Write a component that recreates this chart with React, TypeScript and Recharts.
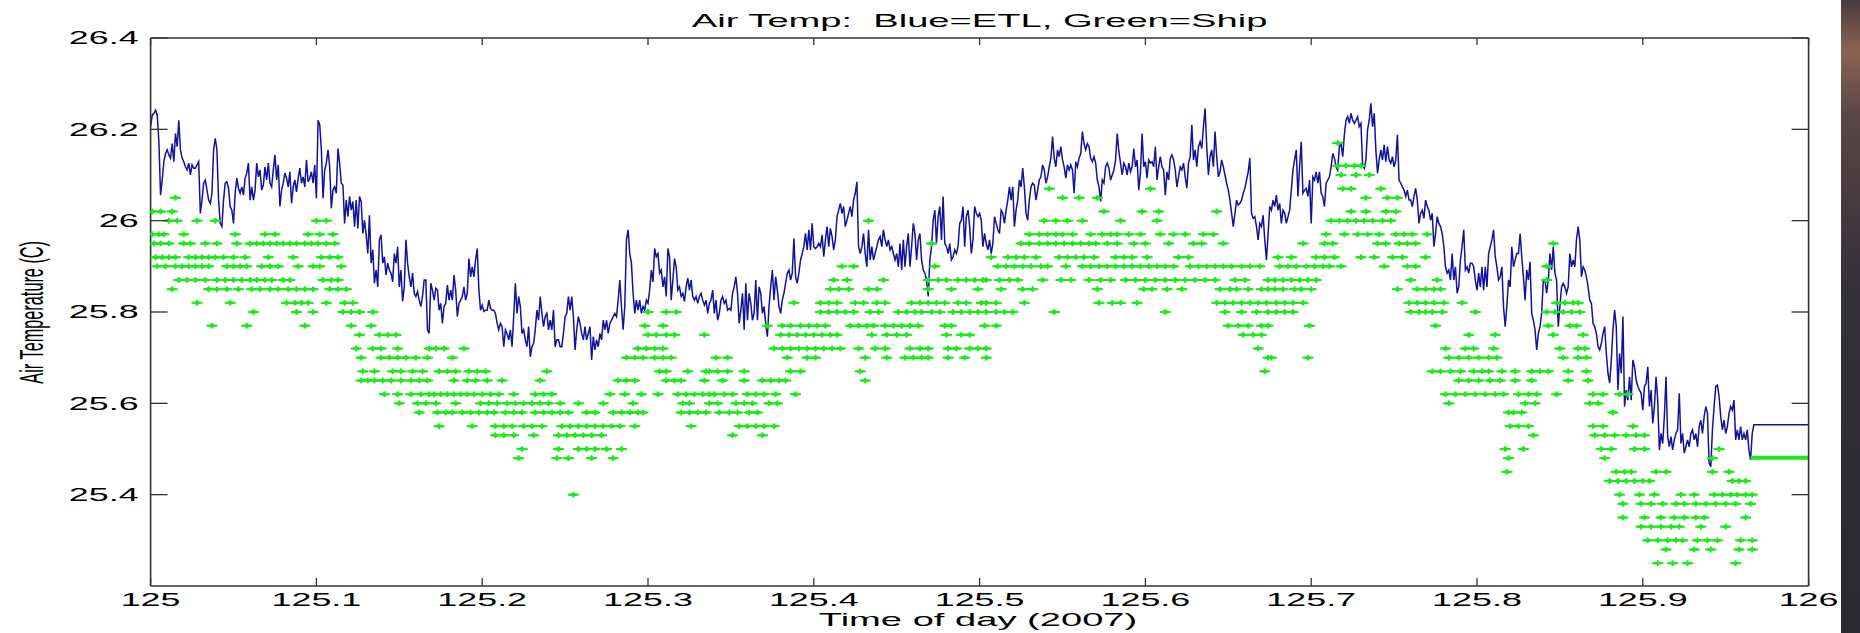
import React from 'react'
import { ComposedChart, Line, Scatter, XAxis, YAxis } from 'recharts'

// ETL air temperature, one reading every 0.001 day starting at day 125.000
const etlStart = 125.0
const etlStep = 0.001
const etlA = [
  26.206, 26.231, 26.235, 26.242, 26.231, 26.173, 26.056, 26.089, 26.129, 26.147,
  26.155, 26.144, 26.137, 26.169, 26.129, 26.191, 26.162, 26.22, 26.155, 26.137,
  26.129, 26.118, 26.111, 26.126, 26.1, 26.122, 26.115, 26.115, 26.122, 26.129,
  26.016, 26.045, 26.082, 26.089, 26.067, 26.045, 26.038, 26.06, 26.155, 26.18,
  26.155, 26.045, 25.994, 25.987, 26.045, 26.082, 26.085, 26.071, 26.031, 26.023,
  25.994, 26.06, 26.093, 26.071, 26.06, 26.074, 26.056, 26.093, 26.104, 26.126,
  26.045, 26.074, 26.045, 26.067, 26.126, 26.096, 26.111, 26.067, 26.078, 26.118,
  26.089, 26.126, 26.082, 26.074, 26.111, 26.144, 26.089, 26.122, 26.031, 26.067,
  26.082, 26.104, 26.093, 26.074, 26.107, 26.038, 26.074, 26.089, 26.063, 26.093,
  26.115, 26.082, 26.096, 26.074, 26.133, 26.085, 26.093, 26.107, 26.082, 26.122,
  26.049, 26.22, 26.21, 26.155, 26.049, 26.111, 26.126, 26.155, 26.118, 26.027,
  26.067, 26.074, 26.06, 26.158, 26.126, 26.082, 26.078, 25.994, 26.045, 26.009,
  26.053, 26.023, 26.042, 25.987, 26.045, 25.983, 26.053, 26.042, 25.972, 26.001,
  25.969, 25.928, 26.012, 25.907, 25.936, 25.863, 25.892, 25.855, 25.958, 25.969,
  25.907, 25.921, 25.881, 25.907, 25.892, 25.885, 25.866, 25.928, 25.907, 25.943,
  25.855, 25.892, 25.823, 25.855, 25.958, 25.907, 25.877, 25.855, 25.885, 25.841,
  25.834, 25.845, 25.826, 25.812, 25.834, 25.87,
]
const etlB = [
  25.87, 25.761, 25.753, 25.863, 25.848, 25.826, 25.852, 25.848, 25.804, 25.819,
  25.775, 25.812, 25.819, 25.859, 25.826, 25.848, 25.826, 25.881, 25.848, 25.79,
  25.819, 25.826, 25.834, 25.855, 25.826, 25.841, 25.917, 25.877, 25.899, 25.877,
  25.914, 25.939, 25.848, 25.804, 25.815, 25.801, 25.804, 25.804, 25.826, 25.808,
  25.804, 25.804, 25.797, 25.775, 25.761, 25.775, 25.768, 25.724, 25.761, 25.753,
  25.739, 25.761, 25.724, 25.79, 25.863, 25.797, 25.834, 25.812, 25.753, 25.761,
  25.739, 25.724, 25.768, 25.702, 25.724, 25.731, 25.761, 25.804, 25.782, 25.834,
  25.797, 25.768, 25.79, 25.797, 25.761, 25.782, 25.761, 25.804, 25.724, 25.739,
  25.739, 25.724, 25.724, 25.753, 25.79, 25.797, 25.834, 25.804, 25.834, 25.79,
  25.717, 25.761, 25.79, 25.775, 25.753, 25.739, 25.768, 25.739, 25.753, 25.768,
  25.695, 25.746, 25.717, 25.739, 25.724, 25.753, 25.739, 25.782, 25.761, 25.782,
  25.753, 25.775, 25.782, 25.79, 25.797, 25.79, 25.826, 25.87, 25.812, 25.761,
  25.812, 25.958, 25.98, 25.928, 25.907, 25.841, 25.797, 25.826, 25.804, 25.826,
  25.797, 25.812, 25.804, 25.826, 25.819, 25.848, 25.892, 25.866, 25.939, 25.921,
  25.928, 25.885, 25.892, 25.855, 25.877, 25.834, 25.939, 25.921, 25.826, 25.87,
  25.917, 25.899, 25.848, 25.855, 25.834, 25.841, 25.823, 25.855, 25.874, 25.848,
  25.87, 25.834, 25.826, 25.834, 25.819, 25.834, 25.841, 25.826, 25.815, 25.826,
  25.797,
]
const etlC = [
  25.819, 25.826, 25.848, 25.797, 25.826, 25.782, 25.797, 25.826, 25.834, 25.819,
  25.826, 25.804, 25.808, 25.804, 25.841, 25.855, 25.877, 25.841, 25.775, 25.804,
  25.841, 25.761, 25.863, 25.782, 25.841, 25.819, 25.782, 25.797, 25.87, 25.782,
  25.855, 25.841, 25.797, 25.812, 25.775, 25.746, 25.812, 25.855, 25.892, 25.826,
  25.877, 25.848, 25.812, 25.797, 25.826, 25.841, 25.863, 25.885, 25.892, 25.87,
  25.885, 25.961, 25.877, 25.863, 25.885, 25.914, 25.928, 25.943, 25.972, 25.936,
  25.98, 25.936, 25.994, 25.943, 25.939, 25.943, 25.95, 25.943, 25.969, 25.921,
  25.958, 25.987, 25.943, 25.983, 25.965, 25.936, 25.958, 26.009, 26.023, 26.038,
  26.016, 26.031, 25.987, 26.001, 26.016, 26.031, 26.009, 26.045, 26.06, 26.085,
  25.943, 25.928, 25.943, 25.972, 25.928, 25.899, 25.98, 25.914, 25.943, 25.914,
  25.928, 25.943, 25.958, 25.965, 25.943, 25.98, 25.958, 25.943, 25.958, 25.936,
  25.943, 25.928, 25.914, 25.928, 25.899, 25.95, 25.892, 25.958, 25.899, 25.943,
  25.972, 25.899, 25.943, 25.994, 25.972, 25.914, 25.958, 25.972, 25.914, 25.892,
  25.885, 25.87, 25.834, 25.914, 25.943, 26.001, 26.023, 25.95, 26.009, 26.031,
  25.958, 26.053, 25.95, 25.943, 25.928, 25.95, 25.914, 25.921, 25.936, 25.928,
  25.943, 25.994, 26.001, 26.031, 25.943, 26.009, 26.023, 25.987, 25.928, 25.958,
  26.031, 26.016, 26.009, 26.016, 26.001, 25.943, 25.972, 25.95, 25.936,
]
const etlD = [
  25.958, 25.928, 25.95, 26.009, 25.994, 25.98, 25.972, 26.023, 26.016, 25.994,
  26.023, 26.045, 26.074, 26.045, 26.074, 25.987, 26.023, 26.045, 26.089, 26.074,
  26.115, 26.074, 26.016, 26.001, 26.045, 26.074, 26.082, 26.078, 26.045, 26.067,
  26.089, 26.096, 26.122, 26.111, 26.082, 26.096, 26.118, 26.137, 26.184, 26.137,
  26.118, 26.155, 26.14, 26.162, 26.133, 26.118, 26.093, 26.122, 26.111, 26.122,
  26.111, 26.06, 26.129, 26.118, 26.137, 26.147, 26.195, 26.169, 26.155, 26.169,
  26.162, 26.137, 26.129, 26.14, 26.126, 26.089, 26.074, 26.042, 26.089, 26.082,
  26.118, 26.126, 26.115, 26.089, 26.1, 26.111, 26.133, 26.191, 26.151, 26.126,
  26.1, 26.126, 26.118, 26.1, 26.126, 26.107, 26.118, 26.158, 26.118, 26.133,
  26.067, 26.104, 26.191, 26.118, 26.129, 26.093, 26.133, 26.126, 26.129, 26.118,
  26.162, 26.089, 26.118, 26.14, 26.118, 26.111, 26.056, 26.107, 26.089, 26.137,
  26.144, 26.133, 26.111, 26.074, 26.096, 26.118, 26.111, 26.126, 26.096, 26.071,
  26.126, 26.14, 26.21, 26.133, 26.155, 26.118, 26.162, 26.173, 26.158, 26.206,
  26.246, 26.162, 26.1, 26.14, 26.155, 26.118, 26.195, 26.14, 26.096, 26.107,
  26.133, 26.118, 26.1, 26.082, 26.067, 26.045, 26.016, 25.987, 26.016, 26.045,
  26.034, 26.038, 26.045, 26.06, 26.071, 26.089, 26.107, 26.137, 26.016, 26.005,
  26.009, 25.987, 25.958, 25.994, 25.987, 26.012, 25.958, 25.914, 25.972,
]
const etlE = [
  26.031, 26.023, 26.045, 26.031, 26.056, 26.023, 26.038, 25.994, 26.023, 26.016,
  25.994, 26.009, 26.023, 26.067, 26.111, 26.133, 26.155, 26.053, 26.118, 26.173,
  26.06, 26.067, 26.071, 26.053, 26.089, 25.994, 26.096, 26.089, 26.107, 26.082,
  26.107, 26.06, 26.053, 26.031, 26.082, 26.089, 26.096, 26.118, 26.147, 26.137,
  26.118, 26.111, 26.162, 26.169, 26.14, 26.188, 26.22, 26.228, 26.213, 26.235,
  26.22, 26.213, 26.22, 26.228, 26.206, 26.213, 26.122, 26.115, 26.133, 26.199,
  26.22, 26.257, 26.206, 26.235, 26.155, 26.104, 26.133, 26.155, 26.133, 26.166,
  26.129, 26.162, 26.133, 26.126, 26.14, 26.118, 26.133, 26.188, 26.089, 26.082,
  26.074, 26.067, 26.053, 26.067, 26.045, 26.045, 26.031, 26.053, 26.071, 26.045,
  25.994, 26.016, 26.023, 26.005, 26.045, 26.031, 26.023, 26.001, 26.016, 25.943,
  25.972, 26.009, 25.994, 25.987, 25.972, 25.943, 25.899, 25.885, 25.892, 25.87,
  25.928, 25.87, 25.899, 25.841, 25.855, 25.914, 25.943, 25.98, 25.892, 25.899,
  25.885, 25.907, 25.907, 25.899, 25.87, 25.848, 25.885, 25.855, 25.899, 25.848,
  25.899, 25.855, 25.928, 25.943, 25.958, 25.98, 25.921, 25.899, 25.87, 25.877,
  25.899, 25.812, 25.768, 25.812, 25.87, 25.855, 25.943, 25.899, 25.914, 25.928,
  25.928, 25.972, 25.921, 25.877, 25.826, 25.892, 25.87, 25.91, 25.797, 25.782,
  25.761, 25.717, 25.753, 25.768, 25.797, 25.87, 25.87, 25.841, 25.87,
]
const etlF = [
  25.928, 25.892, 25.943, 25.885, 25.87, 25.768, 25.812, 25.855, 25.863, 25.855,
  25.841, 25.855, 25.928, 25.899, 25.914, 25.899, 25.958, 25.987, 25.958, 25.877,
  25.899, 25.892, 25.877, 25.855, 25.826, 25.819, 25.775, 25.768, 25.753, 25.724,
  25.717, 25.731, 25.753, 25.768, 25.709, 25.666, 25.644, 25.695, 25.761, 25.804,
  25.768, 25.629, 25.709, 25.666, 25.79, 25.593, 25.629, 25.607, 25.658, 25.607,
  25.695, 25.68, 25.651, 25.637, 25.629, 25.622, 25.585, 25.637, 25.644, 25.68,
  25.593, 25.629, 25.556, 25.593, 25.658, 25.607, 25.498, 25.534, 25.512, 25.571,
  25.658, 25.527, 25.505, 25.527, 25.498, 25.52, 25.534, 25.542, 25.622, 25.512,
  25.534, 25.491, 25.505, 25.52, 25.505, 25.534, 25.542, 25.52, 25.534, 25.505,
  25.549, 25.563, 25.534, 25.571, 25.593, 25.578, 25.469, 25.461, 25.542, 25.593,
  25.637, 25.64, 25.615, 25.571, 25.542, 25.563, 25.534, 25.549, 25.578, 25.593,
  25.585, 25.607, 25.52, 25.542, 25.52, 25.549, 25.52, 25.534, 25.52, 25.542,
  25.498, 25.476, 25.534, 25.553,
]
// value the ETL record is held at after the last reading
const etlHold = 25.553

// ship sensor: quantised levels (C) and the times (day) a reading fell on each
const shipLevels = [
  26.17, 26.12, 26.1, 26.07, 26.05, 26.02, 26.0, 25.97, 25.95, 25.92, 25.9, 25.87, 25.85,
  25.82, 25.8, 25.77, 25.75, 25.72, 25.7, 25.67, 25.65, 25.62, 25.6, 25.58, 25.55, 25.53,
  25.5, 25.48, 25.45, 25.43, 25.4, 25.38, 25.35, 25.33, 25.3, 25.28, 25.25,
]
const shipTimes: number[][] = [
  [125.716],
  [125.716, 125.721, 125.726, 125.73],
  [125.718, 125.727, 125.735],
  [125.542, 125.603, 125.719, 125.724, 125.742],
  [125.015, 125.55, 125.56, 125.571, 125.733, 125.746, 125.752],
  [125.001, 125.006, 125.013, 125.575, 125.598, 125.608, 125.643, 125.724, 125.733, 125.745, 125.751],
  [125.011, 125.016, 125.028, 125.039, 125.1, 125.106, 125.433, 125.539, 125.546, 125.553, 125.562,
    125.585, 125.607, 125.712, 125.717, 125.722, 125.727, 125.732, 125.737, 125.743, 125.748],
  [125.001, 125.005, 125.008, 125.02, 125.051, 125.069, 125.075, 125.095, 125.102, 125.11, 125.53,
    125.536, 125.541, 125.546, 125.55, 125.556, 125.567, 125.574, 125.579, 125.583, 125.59, 125.597,
    125.609, 125.617, 125.624, 125.635, 125.641, 125.709, 125.72, 125.728, 125.734, 125.741, 125.751,
    125.756, 125.761, 125.77],
  [125.002, 125.006, 125.011, 125.02, 125.024, 125.033, 125.04, 125.052, 125.06, 125.064, 125.068,
    125.072, 125.076, 125.08, 125.084, 125.088, 125.093, 125.097, 125.101, 125.106, 125.111, 125.471,
    125.525, 125.53, 125.536, 125.541, 125.546, 125.551, 125.556, 125.561, 125.566, 125.57, 125.577,
    125.583, 125.593, 125.6, 125.614, 125.629, 125.634, 125.647, 125.695, 125.708, 125.713, 125.74,
    125.745, 125.753, 125.758, 125.763, 125.846],
  [125.003, 125.007, 125.011, 125.015, 125.023, 125.027, 125.031, 125.035, 125.039, 125.044, 125.05,
    125.057, 125.071, 125.086, 125.103, 125.108, 125.113, 125.507, 125.517, 125.522, 125.527, 125.534,
    125.548, 125.553, 125.558, 125.563, 125.569, 125.582, 125.587, 125.592, 125.601, 125.62, 125.626,
    125.68, 125.688, 125.703, 125.708, 125.714, 125.73, 125.738, 125.749, 125.755, 125.769],
  [125.004, 125.009, 125.015, 125.019, 125.023, 125.027, 125.031, 125.035, 125.046, 125.05, 125.054,
    125.058, 125.067, 125.072, 125.077, 125.089, 125.098, 125.102, 125.115, 125.417, 125.424, 125.473,
    125.511, 125.516, 125.521, 125.526, 125.531, 125.537, 125.541, 125.552, 125.562, 125.567, 125.572,
    125.577, 125.582, 125.587, 125.592, 125.597, 125.602, 125.607, 125.612, 125.617, 125.627, 125.632,
    125.637, 125.642, 125.647, 125.652, 125.658, 125.663, 125.669, 125.681, 125.686, 125.691, 125.697,
    125.702, 125.707, 125.711, 125.718, 125.744, 125.758, 125.763, 125.842],
  [125.017, 125.022, 125.027, 125.033, 125.04, 125.045, 125.05, 125.055, 125.06, 125.064, 125.069,
    125.073, 125.08, 125.084, 125.104, 125.109, 125.113, 125.412, 125.42, 125.442, 125.469, 125.475,
    125.48, 125.487, 125.492, 125.497, 125.502, 125.504, 125.512, 125.518, 125.523, 125.538, 125.549,
    125.555, 125.566, 125.573, 125.579, 125.588, 125.594, 125.6, 125.606, 125.612, 125.618, 125.624,
    125.63, 125.636, 125.642, 125.654, 125.66, 125.674, 125.678, 125.683, 125.688, 125.693, 125.698,
    125.703, 125.76, 125.776, 125.842],
  [125.013, 125.035, 125.04, 125.046, 125.053, 125.061, 125.066, 125.072, 125.077, 125.083, 125.088,
    125.093, 125.098, 125.108, 125.113, 125.118, 125.41, 125.415, 125.421, 125.433, 125.438, 125.469,
    125.483, 125.499, 125.513, 125.526, 125.532, 125.571, 125.599, 125.604, 125.613, 125.622, 125.645,
    125.651, 125.655, 125.662, 125.67, 125.674, 125.678, 125.683, 125.69, 125.694, 125.7, 125.752,
    125.764, 125.769, 125.774, 125.778],
  [125.028, 125.048, 125.082, 125.087, 125.091, 125.095, 125.106, 125.117, 125.122, 125.388, 125.404,
    125.409, 125.414, 125.425, 125.43, 125.438, 125.443, 125.459, 125.464, 125.469, 125.474, 125.479,
    125.487, 125.492, 125.501, 125.504, 125.51, 125.527, 125.572, 125.58, 125.585, 125.595, 125.643,
    125.648, 125.653, 125.658, 125.663, 125.668, 125.673, 125.679, 125.684, 125.689, 125.695, 125.759,
    125.764, 125.769, 125.774, 125.78, 125.791, 125.848, 125.853, 125.858, 125.861],
  [125.062, 125.088, 125.098, 125.116, 125.121, 125.126, 125.134, 125.3, 125.311, 125.317, 125.404,
    125.409, 125.414, 125.419, 125.424, 125.434, 125.439, 125.451, 125.456, 125.461, 125.465, 125.471,
    125.476, 125.484, 125.489, 125.494, 125.499, 125.504, 125.51, 125.515, 125.52, 125.545, 125.612,
    125.648, 125.658, 125.667, 125.674, 125.679, 125.684, 125.689, 125.76, 125.765, 125.769, 125.773,
    125.779, 125.799, 125.842, 125.847, 125.852, 125.857, 125.862],
  [125.037, 125.058, 125.093, 125.121, 125.133, 125.298, 125.309, 125.372, 125.381, 125.386, 125.392,
    125.397, 125.402, 125.407, 125.422, 125.427, 125.432, 125.436, 125.443, 125.448, 125.453, 125.458,
    125.463, 125.479, 125.483, 125.503, 125.51, 125.65, 125.656, 125.662, 125.67, 125.674, 125.699,
    125.775, 125.843, 125.856, 125.86],
  [125.126, 125.138, 125.143, 125.148, 125.3, 125.305, 125.311, 125.316, 125.334, 125.38, 125.385,
    125.39, 125.395, 125.4, 125.405, 125.41, 125.414, 125.435, 125.444, 125.45, 125.456, 125.48,
    125.489, 125.494, 125.659, 125.665, 125.67, 125.795, 125.811, 125.846, 125.864],
  [125.124, 125.134, 125.139, 125.149, 125.168, 125.172, 125.177, 125.189, 125.294, 125.299, 125.304,
    125.309, 125.376, 125.381, 125.386, 125.391, 125.396, 125.401, 125.406, 125.411, 125.416, 125.427,
    125.437, 125.443, 125.458, 125.464, 125.469, 125.481, 125.486, 125.494, 125.499, 125.504, 125.668,
    125.781, 125.793, 125.798, 125.81, 125.85, 125.861, 125.865],
  [125.127, 125.139, 125.144, 125.149, 125.154, 125.16, 125.167, 125.182, 125.287, 125.292, 125.297,
    125.304, 125.309, 125.314, 125.341, 125.348, 125.384, 125.396, 125.401, 125.431, 125.444, 125.455,
    125.46, 125.465, 125.469, 125.481, 125.491, 125.504, 125.674, 125.676, 125.698, 125.783, 125.789,
    125.795, 125.801, 125.807, 125.812, 125.852, 125.861, 125.866],
  [125.128, 125.135, 125.146, 125.151, 125.158, 125.164, 125.174, 125.179, 125.184, 125.192, 125.197,
    125.202, 125.239, 125.307, 125.311, 125.324, 125.335, 125.337, 125.342, 125.348, 125.358, 125.386,
    125.392, 125.428, 125.672, 125.773, 125.778, 125.784, 125.79, 125.798, 125.803, 125.807, 125.815,
    125.823, 125.833, 125.838, 125.843, 125.855, 125.866],
  [125.127, 125.131, 125.135, 125.14, 125.145, 125.151, 125.157, 125.162, 125.167, 125.183, 125.191,
    125.196, 125.203, 125.212, 125.235, 125.282, 125.287, 125.292, 125.311, 125.316, 125.32, 125.334,
    125.345, 125.358, 125.369, 125.374, 125.379, 125.383, 125.431, 125.789, 125.795, 125.801, 125.808,
    125.814, 125.823, 125.833, 125.855, 125.867],
  [125.141, 125.149, 125.157, 125.163, 125.168, 125.171, 125.175, 125.179, 125.183, 125.187, 125.191,
    125.195, 125.2, 125.205, 125.21, 125.219, 125.232, 125.237, 125.242, 125.277, 125.286, 125.296,
    125.306, 125.318, 125.323, 125.328, 125.333, 125.337, 125.34, 125.346, 125.351, 125.36, 125.365,
    125.37, 125.377, 125.389, 125.781, 125.787, 125.793, 125.799, 125.805, 125.811, 125.816, 125.825,
    125.831, 125.836, 125.848, 125.87, 125.876, 125.886, 125.891],
  [125.15, 125.161, 125.166, 125.172, 125.184, 125.199, 125.204, 125.209, 125.215, 125.22, 125.225,
    125.23, 125.235, 125.24, 125.247, 125.258, 125.273, 125.291, 125.321, 125.325, 125.337, 125.342,
    125.353, 125.358, 125.363, 125.373, 125.378, 125.783, 125.829, 125.835, 125.868, 125.873],
  [125.162, 125.173, 125.178, 125.182, 125.188, 125.193, 125.198, 125.203, 125.207, 125.214, 125.219,
    125.224, 125.232, 125.237, 125.242, 125.247, 125.252, 125.263, 125.268, 125.279, 125.284, 125.289,
    125.294, 125.297, 125.32, 125.325, 125.33, 125.335, 125.343, 125.349, 125.354, 125.361, 125.366,
    125.819, 125.822, 125.827, 125.882],
  [125.174, 125.194, 125.208, 125.213, 125.218, 125.225, 125.23, 125.236, 125.248, 125.253, 125.258,
    125.263, 125.268, 125.273, 125.278, 125.283, 125.292, 125.326, 125.355, 125.36, 125.365, 125.37,
    125.376, 125.82, 125.825, 125.831, 125.87, 125.876, 125.894],
  [125.208, 125.213, 125.219, 125.231, 125.246, 125.251, 125.256, 125.261, 125.266, 125.272, 125.351,
    125.369, 125.834, 125.871, 125.877, 125.883, 125.89, 125.896, 125.901],
  [125.224, 125.246, 125.258, 125.263, 125.268, 125.275, 125.284, 125.817, 125.828, 125.875, 125.881,
    125.895, 125.901, 125.946],
  [125.222, 125.245, 125.252, 125.266, 125.279, 125.819, 125.877, 125.942],
  [125.818, 125.884, 125.889, 125.893, 125.908, 125.914, 125.942, 125.952],
  [125.88, 125.885, 125.89, 125.895, 125.9, 125.904, 125.954, 125.958, 125.962],
  [125.255, 125.886, 125.898, 125.907, 125.923, 125.931, 125.943, 125.948, 125.953, 125.957, 125.962,
    125.966],
  [125.888, 125.899, 125.905, 125.912, 125.92, 125.925, 125.932, 125.938, 125.944, 125.95, 125.956,
    125.965],
  [125.888, 125.901, 125.911, 125.919, 125.925, 125.932, 125.937, 125.962],
  [125.899, 125.905, 125.911, 125.917, 125.922, 125.935, 125.95],
  [125.903, 125.909, 125.915, 125.92, 125.924, 125.933, 125.939, 125.945, 125.959, 125.966],
  [125.914, 125.931, 125.941, 125.958, 125.966],
  [125.909, 125.918, 125.927, 125.956],
]
// ship record held at its last value to the end of the day
const shipHoldFrom = 125.965
const shipHold = 25.481

const xTicks = [125, 125.1, 125.2, 125.3, 125.4, 125.5, 125.6, 125.7, 125.8, 125.9, 126]
const yTicks = [25.4, 25.6, 25.8, 26, 26.2, 26.4]

const etlTemp = [...etlA, ...etlB, ...etlC, ...etlD, ...etlE, ...etlF]
const etlData = etlTemp.map((v, i) => ({ t: etlStart + i * etlStep, v }))
etlData.push({ t: 126, v: etlHold })

const shipData = shipLevels.flatMap((level, k) => shipTimes[k].map((t) => ({ t, v: level })))
const shipHoldData = [
  { t: shipHoldFrom, v: shipHold },
  { t: 126, v: shipHold },
]

const INK = '#333'
const BLUE = '#12129a'
const GREEN = '#1ee81e'
const STRETCH = 2.05 // the picture is stretched sideways, text too
const FONT = '"Liberation Sans", Arial, Helvetica, sans-serif'

function BottomTick(props: any) {
  const { x, y, payload } = props
  const axisY = y - 4
  return (
    <g>
      <line x1={x} x2={x} y1={axisY} y2={axisY - 8} stroke={INK} strokeWidth={1.3} />
      <text
        transform={`translate(${x},${axisY + 19.7}) scale(${STRETCH},1)`}
        textAnchor="middle"
        fontSize={17.5}
        fontFamily={FONT}
        fill="#000"
      >
        {payload.value}
      </text>
    </g>
  )
}

function TopTick(props: any) {
  const { x, y } = props
  return <line x1={x} x2={x} y1={y} y2={y + 7} stroke={INK} strokeWidth={1.3} />
}

function LeftTick(props: any) {
  const { x, y, payload } = props
  const axisX = x + 12
  return (
    <g>
      <line x1={axisX} x2={axisX + 17} y1={y} y2={y} stroke={INK} strokeWidth={1.3} />
      <text
        transform={`translate(${x},${y}) scale(${STRETCH},1)`}
        textAnchor="end"
        dy="0.36em"
        fontSize={17.5}
        fontFamily={FONT}
        fill="#000"
      >
        {payload.value}
      </text>
    </g>
  )
}

function RightTick(props: any) {
  const { x, y } = props
  return <line x1={x} x2={x - 17} y1={y} y2={y} stroke={INK} strokeWidth={1.3} />
}

// MATLAB '+' marker, squashed by the sideways stretch of the picture
function PlusMark(props: any) {
  const { cx, cy } = props
  return (
    <g>
      <path
        d={`M${cx - 5.5},${cy} L${cx},${cy - 2.2} L${cx + 5.5},${cy} L${cx},${cy + 2.2} Z`}
        fill={GREEN}
      />
      <line x1={cx - 5.5} x2={cx + 5.5} y1={cy} y2={cy} stroke={GREEN} strokeWidth={2} />
      <line x1={cx} x2={cx} y1={cy - 3} y2={cy + 3} stroke={GREEN} strokeWidth={1.6} />
    </g>
  )
}

export default function App() {
  return (
    <div
      style={{
        position: 'absolute',
        left: 0,
        top: 0,
        width: 1860,
        height: 633,
        background: '#fff',
        overflow: 'hidden',
      }}
    >
      <ComposedChart width={1860} height={633} margin={{ top: 37, right: 50.4, bottom: 0, left: 60.6 }}>
        <XAxis
          xAxisId="b"
          dataKey="t"
          type="number"
          domain={[125, 126]}
          allowDataOverflow
          ticks={xTicks}
          interval={0}
          height={47}
          tickSize={0}
          tickMargin={4}
          tickLine={false}
          axisLine={{ stroke: INK, strokeWidth: 1.6 }}
          tick={BottomTick}
        />
        <XAxis
          xAxisId="top"
          orientation="top"
          dataKey="t"
          type="number"
          domain={[125, 126]}
          allowDataOverflow
          ticks={xTicks}
          interval={0}
          height={1}
          tickSize={0}
          tickMargin={0}
          tickLine={false}
          axisLine={{ stroke: INK, strokeWidth: 1.3 }}
          tick={TopTick}
        />
        <YAxis
          yAxisId="l"
          type="number"
          domain={[25.2, 26.4]}
          allowDataOverflow
          ticks={yTicks}
          interval={0}
          width={90}
          tickSize={0}
          tickMargin={12}
          tickLine={false}
          axisLine={{ stroke: INK, strokeWidth: 1.6 }}
          tick={LeftTick}
        />
        <YAxis
          yAxisId="r"
          orientation="right"
          type="number"
          domain={[25.2, 26.4]}
          allowDataOverflow
          ticks={yTicks}
          interval={0}
          width={1}
          tickSize={0}
          tickMargin={0}
          tickLine={false}
          axisLine={{ stroke: INK, strokeWidth: 1.6 }}
          tick={RightTick}
        />
        <Line
          xAxisId="b"
          yAxisId="l"
          data={etlData}
          dataKey="v"
          type="linear"
          stroke={BLUE}
          strokeWidth={1.5}
          dot={false}
          activeDot={false}
          isAnimationActive={false}
        />
        <Scatter
          xAxisId="b"
          yAxisId="l"
          data={shipData}
          dataKey="v"
          shape={PlusMark}
          isAnimationActive={false}
        />
        <Line
          xAxisId="b"
          yAxisId="l"
          data={shipHoldData}
          dataKey="v"
          stroke={GREEN}
          strokeWidth={4}
          dot={false}
          activeDot={false}
          isAnimationActive={false}
        />
      </ComposedChart>

      {/* title and axis labels */}
      <svg
        width={1860}
        height={633}
        style={{ position: 'absolute', left: 0, top: 0, pointerEvents: 'none' }}
      >
        <text
          transform={`translate(979.6,26.7) scale(${STRETCH},1)`}
          textAnchor="middle"
          fontSize={18.6}
          fontFamily={FONT}
          fill="#000"
          style={{ whiteSpace: 'pre' }}
        >
          {'Air Temp:  Blue=ETL, Green=Ship'}
        </text>
        <text
          transform={`translate(978,626.3) scale(${STRETCH},1)`}
          textAnchor="middle"
          fontSize={18.6}
          fontFamily={FONT}
          fill="#000"
        >
          Time of day (2007)
        </text>
        <text
          transform={`translate(43,312.3) scale(${STRETCH},1) rotate(-90)`}
          textAnchor="middle"
          fontSize={16.3}
          fontFamily={FONT}
          fill="#000"
        >
          Air Temperature (C)
        </text>
      </svg>

      {/* edge of the slide background showing at the right */}
      <div
        style={{
          position: 'absolute',
          left: 1841,
          top: 0,
          width: 19,
          height: 633,
          background:
            'linear-gradient(180deg, #4a3a3c 0%, #8a6352 8%, #5c4646 18%, #34303a 45%, #2a2930 100%)',
        }}
      />
    </div>
  )
}
